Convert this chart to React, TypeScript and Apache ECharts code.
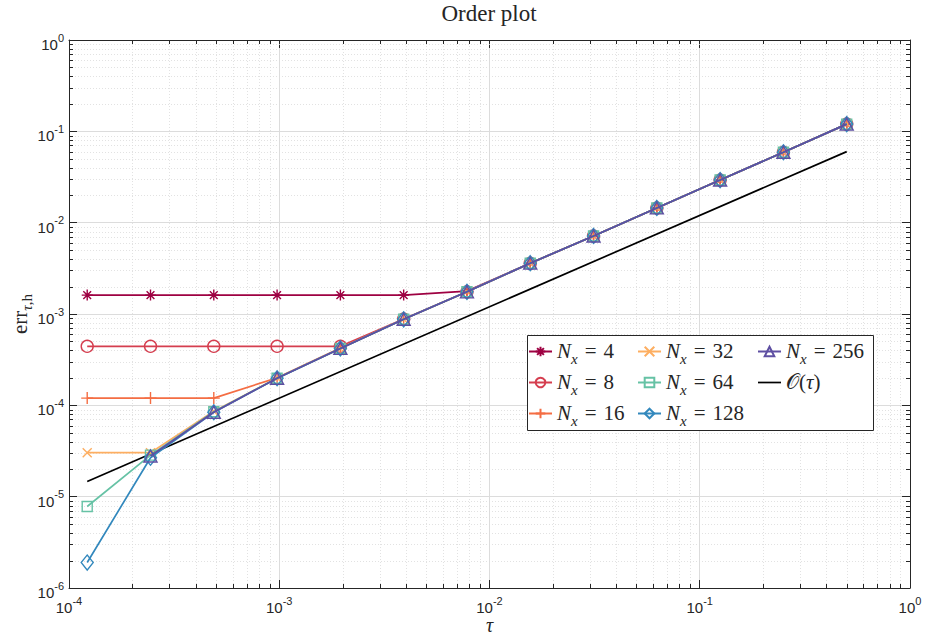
import React, { useEffect, useRef } from "react";
import * as echarts from "echarts";

// step sizes tau (ascending)
const tau = [
  1.220703125e-4, 2.44140625e-4, 4.8828125e-4, 9.765625e-4, 1.953125e-3, 3.90625e-3,
  7.8125e-3, 1.5625e-2, 3.125e-2, 6.25e-2, 0.125, 0.25, 0.5,
];
const errNx4 = [1.61e-3, 1.61e-3, 1.61e-3, 1.61e-3, 1.61e-3, 1.61e-3, 1.78e-3, 3.6e-3, 7.15e-3, 1.45e-2, 2.93e-2, 5.9e-2, 0.12];
const errNx8 = [4.43e-4, 4.43e-4, 4.43e-4, 4.43e-4, 4.43e-4, 8.8e-4, 1.75e-3, 3.6e-3, 7.15e-3, 1.45e-2, 2.93e-2, 5.9e-2, 0.12];
const errNx16 = [1.2e-4, 1.2e-4, 1.2e-4, 2.0e-4, 4.25e-4, 8.75e-4, 1.75e-3, 3.6e-3, 7.15e-3, 1.45e-2, 2.93e-2, 5.9e-2, 0.12];
const errNx32 = [3.03e-5, 3.03e-5, 8.6e-5, 1.99e-4, 4.2e-4, 8.75e-4, 1.75e-3, 3.6e-3, 7.15e-3, 1.45e-2, 2.93e-2, 5.9e-2, 0.12];
const errNx64 = [7.8e-6, 2.85e-5, 8.5e-5, 1.98e-4, 4.2e-4, 8.75e-4, 1.75e-3, 3.6e-3, 7.15e-3, 1.45e-2, 2.93e-2, 5.9e-2, 0.12];
const errNx128 = [1.9e-6, 2.67e-5, 8.4e-5, 1.98e-4, 4.2e-4, 8.75e-4, 1.75e-3, 3.6e-3, 7.15e-3, 1.45e-2, 2.93e-2, 5.9e-2, 0.12];
const errNx256 = [null, 2.79e-5, 8.4e-5, 1.98e-4, 4.2e-4, 8.75e-4, 1.75e-3, 3.6e-3, 7.15e-3, 1.45e-2, 2.93e-2, 5.9e-2, 0.12];
// reference slope line O(tau)
const refTau = [1.220703125e-4, 0.5];
const refErr = [1.465e-5, 0.06];

const seriesNames = ["Nx4", "Nx8", "Nx16", "Nx32", "Nx64", "Nx128", "Nx256", "Otau"];
const seriesLabels: Record<string, string> = {
  Nx4: "4", Nx8: "8", Nx16: "16", Nx32: "32", Nx64: "64", Nx128: "128", Nx256: "256",
};
const colors = ["#9e0142", "#d53e4f", "#f46d43", "#fdae61", "#66c2a5", "#3288bd", "#5e4fa2"];

const xMin = 1e-4, xMax = 1;
const yMin = 1e-6, yMax = 1;

const SERIF = "'Liberation Serif', 'DejaVu Serif', serif";
const SANS = "'Liberation Sans', Arial, sans-serif";

function minorValues(lo: number, hi: number): number[] {
  const out: number[] = [];
  for (let e = Math.round(Math.log10(lo)); e < Math.round(Math.log10(hi)); e++) {
    for (let m = 2; m <= 9; m++) out.push(m * Math.pow(10, e));
  }
  return out;
}

export default function App() {
  const ref = useRef<HTMLDivElement>(null);
  useEffect(() => {
    if (!ref.current) return;
    const chart = echarts.init(ref.current, undefined, { renderer: "svg" });

    const pair = (ys: (number | null)[]) => tau.map((t, i) => [t, ys[i]]).filter((p) => p[1] !== null);

    const symbols = [
      "path://M5 0L5 10M0 5L10 5M1.46 1.46L8.54 8.54M8.54 1.46L1.46 8.54",
      "circle",
      "path://M5 0L5 10M0 5L10 5",
      "path://M0 0L10 10M10 0L0 10",
      "rect",
      "diamond",
      "triangle",
    ];
    const sizes: any[] = [11, 12, 12, 9, 10, [12, 15], [13, 12]];
    const datas = [errNx4, errNx8, errNx16, errNx32, errNx64, errNx128, errNx256];

    const lineSeries: any[] = datas.map((d, i) => ({
      name: seriesNames[i],
      type: "line",
      data: pair(d),
      symbol: symbols[i],
      symbolSize: sizes[i],
      showAllSymbol: true,
      color: colors[i],
      lineStyle: { color: colors[i], width: 1.7 },
      itemStyle: { color: "rgba(0,0,0,0)", borderColor: colors[i], borderWidth: 1.4 },
      z: 3 + i,
      emphasis: { disabled: true },
    }));

    lineSeries.push({
      name: "Otau",
      type: "line",
      data: refTau.map((t, i) => [t, refErr[i]]),
      symbol: "none",
      color: "#000",
      lineStyle: { color: "#000", width: 1.7 },
      z: 2,
      emphasis: { disabled: true },
    });

    const minorData: any[] = [];
    minorValues(xMin, xMax).forEach((v) => minorData.push([v, 1e-3, 0]));
    minorValues(yMin, yMax).forEach((v) => minorData.push([1e-2, v, 1]));

    const gridSeries = {
      type: "custom",
      coordinateSystem: "cartesian2d",
      data: minorData,
      silent: true,
      z: 1,
      clip: false,
      renderItem: (params: any, api: any) => {
        const cs = params.coordSys;
        const p = api.coord([api.value(0), api.value(1)]);
        const kind = api.value(2);
        const tickStyle = { stroke: "#262626", lineWidth: 1 };
        const gStyle = { stroke: "#dadada", lineWidth: 0.8, lineDash: [1, 2] };
        if (kind === 0) {
          const x = Math.round(p[0]) + 0.5;
          return {
            type: "group",
            children: [
              { type: "line", shape: { x1: x, y1: cs.y, x2: x, y2: cs.y + cs.height }, style: gStyle },
              { type: "line", shape: { x1: x, y1: cs.y + cs.height, x2: x, y2: cs.y + cs.height - 4 }, style: tickStyle },
              { type: "line", shape: { x1: x, y1: cs.y, x2: x, y2: cs.y + 4 }, style: tickStyle },
            ],
          };
        }
        const y = Math.round(p[1]) + 0.5;
        return {
          type: "group",
          children: [
            { type: "line", shape: { x1: cs.x, y1: y, x2: cs.x + cs.width, y2: y }, style: gStyle },
            { type: "line", shape: { x1: cs.x, y1: y, x2: cs.x + 4, y2: y }, style: tickStyle },
            { type: "line", shape: { x1: cs.x + cs.width, y1: y, x2: cs.x + cs.width - 4, y2: y }, style: tickStyle },
          ],
        };
      },
    };

    const expRich = {
      b: { fontFamily: SANS, fontSize: 15, lineHeight: 16, padding: [5, 0, 0, 0], verticalAlign: "top", color: "#262626" },
      s: { fontFamily: SANS, fontSize: 11, lineHeight: 12, verticalAlign: "top", color: "#262626" },
    };
    const expFormatter = (v: number) => `{b|10}{s|${Math.round(Math.log10(v))}}`;

    const legendRich = {
      n: { fontFamily: SERIF, fontStyle: "italic", fontSize: 21, lineHeight: 23, verticalAlign: "top", color: "#262626" },
      x: { fontFamily: SERIF, fontStyle: "italic", fontSize: 15, lineHeight: 14, padding: [11, 1, 0, 0], verticalAlign: "top", color: "#262626" },
      e: { fontFamily: SERIF, fontSize: 21, lineHeight: 23, padding: [0, 7, 0, 6], verticalAlign: "top", color: "#262626" },
      t: { fontFamily: SERIF, fontSize: 21, lineHeight: 23, verticalAlign: "top", color: "#262626" },
    };
    const legendFormatter = (name: string) =>
      name === "Otau" ? `{t|𝒪(}{n|τ}{t|)}` : `{n|N}{x|x}{e|=}{t|${seriesLabels[name]}}`;

    const mkLegend = (data: any[], left: number) => ({
      orient: "vertical",
      left,
      top: 340,
      padding: 0,
      itemGap: 5,
      itemWidth: 23,
      itemHeight: 12,
      selectedMode: false,
      data,
      formatter: legendFormatter,
      textStyle: { rich: legendRich },
      z: 10,
    });

    const axisCommon = {
      type: "log",
      logBase: 10,
      axisLine: { show: true, onZero: false, lineStyle: { color: "#262626", width: 1 } },
      axisTick: { show: true, inside: true, length: 8, lineStyle: { color: "#262626", width: 1 } },
    };

    const option: any = {
      animation: false,
      backgroundColor: "#fff",
      grid: { left: 69, right: 15, top: 40, bottom: 49, containLabel: false, outerBoundsMode: "none" },
      xAxis: [
        {
          ...axisCommon,
          position: "bottom",
          min: xMin,
          max: xMax,
          axisLabel: { formatter: expFormatter, rich: expRich, margin: 7 },
          splitLine: { show: true, lineStyle: { color: "#dcdcdc", width: 1 } },
          name: "{i|τ}",
          nameLocation: "middle",
          nameGap: 30,
          nameMoveOverlap: false,
          nameTextStyle: { rich: { i: { fontFamily: SERIF, fontStyle: "italic", fontSize: 20, lineHeight: 14, color: "#262626" } } },
        },
        {
          ...axisCommon,
          position: "top",
          min: xMin,
          max: xMax,
          axisLabel: { show: false },
          splitLine: { show: false },
        },
      ],
      yAxis: [
        {
          ...axisCommon,
          position: "left",
          min: yMin,
          max: yMax,
          axisLabel: { formatter: expFormatter, rich: expRich, margin: 5 },
          splitLine: { show: true, lineStyle: { color: "#dcdcdc", width: 1 } },
          name: "{t|err}{s|τ}{u|,h}",
          nameLocation: "middle",
          nameGap: 38,
          nameMoveOverlap: false,
          nameRotate: 90,
          nameTextStyle: {
            rich: {
              t: { fontFamily: SERIF, fontSize: 21, lineHeight: 22, verticalAlign: "top", color: "#262626" },
              s: { fontFamily: SERIF, fontStyle: "italic", fontSize: 15, lineHeight: 14, padding: [10, 0, 0, 0], verticalAlign: "top", color: "#262626" },
              u: { fontFamily: SERIF, fontSize: 15, lineHeight: 14, padding: [10, 0, 0, 0], verticalAlign: "top", color: "#262626" },
            },
          },
        },
        {
          ...axisCommon,
          position: "right",
          min: yMin,
          max: yMax,
          axisLabel: { show: false },
          splitLine: { show: false },
        },
      ],
      legend: [
        mkLegend(["Nx4", "Nx8", "Nx16"], 528),
        mkLegend(["Nx32", "Nx64", "Nx128"], 637),
        mkLegend(
          [
            "Nx256",
            {
              name: "Otau",
              icon: "path://M0 0L23 0L23 1.7L0 1.7Z",
              itemStyle: { color: "#000", borderWidth: 0 },
            },
          ],
          757
        ),
      ],
      graphic: [
        {
          type: "rect",
          shape: { x: 527.5, y: 335.5, width: 346, height: 95 },
          style: { fill: "#fff", stroke: "#262626", lineWidth: 1 },
          z: 9,
          silent: true,
        },
        {
          type: "text",
          x: 489,
          y: 13,
          style: {
            text: "Order plot",
            font: `23px ${SERIF}`,
            fill: "#262626",
            textAlign: "center",
            textVerticalAlign: "middle",
          },
        },
      ],
      series: [gridSeries, ...lineSeries],
    };

    chart.setOption(option);
    return () => chart.dispose();
  }, []);

  return (
    <div
      ref={ref}
      style={{ position: "fixed", left: 0, top: 0, width: 925, height: 637, background: "#fff" }}
    />
  );
}
